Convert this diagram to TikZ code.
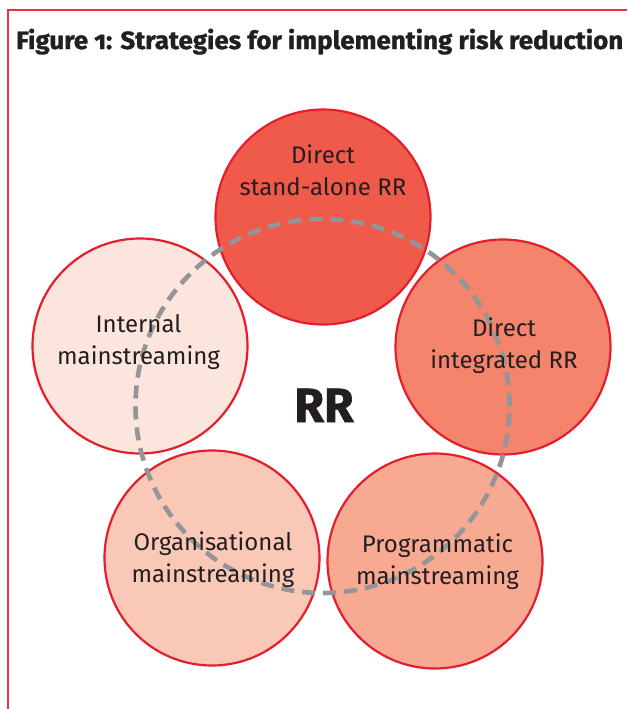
\documentclass[tikz,border=0pt]{standalone}
\usepackage{fontspec}
\usepackage{graphicx}
\setmainfont{Fira Sans}
\newfontfamily\titlefont[Numbers=OldStyle, FakeBold=1.2]{Fira Sans}
\newfontfamily\heavyfont[FakeBold=1.5]{Fira Sans}
\definecolor{cTop}{HTML}{EF5A4B}
\definecolor{cRight}{HTML}{F4846C}
\definecolor{cBR}{HTML}{F7A992}
\definecolor{cBL}{HTML}{F9C8B7}
\definecolor{cLeft}{HTML}{FCE5DC}
\definecolor{cEdge}{HTML}{E41E2D}
\definecolor{cFrame}{HTML}{E83446}
\definecolor{cDash}{HTML}{939598}
\definecolor{cText}{HTML}{231F20}
\begin{document}
\begin{tikzpicture}[x=1pt,y=-1pt,
  bubble/.style={circle, draw=cEdge, line width=2.2pt, minimum size=215pt, inner sep=0pt},
  label/.style={text=cText, font=\fontsize{24}{31.5}\selectfont, align=center, anchor=base, inner sep=0pt},
  ring/.style={draw=cDash, line width=4.6pt, dash pattern=on 13pt off 8pt},
  frameline/.style={draw=cFrame, line width=1.6pt}]
\useasboundingbox (0,0) rectangle (627,709);
\fill[white] (0,0) rectangle (627,709);
\draw[frameline] (627,10) -- (8,10) -- (8,709);
\node[anchor=base west, inner sep=0pt, text=cText] (title) at (16,49)
  {\resizebox{607pt}{\height}{\titlefont\bfseries\fontsize{25}{28}\selectfont Figure 1: Strategies for implementing risk reduction}};
% circles
\node[bubble, fill=cLeft]  (internal) at (140,346) {};
\node[bubble, fill=cBL]    (organ)    at (212,558) {};
\node[bubble, fill=cBR]    (progr)    at (435,561) {};
\node[bubble, fill=cRight] (integ)    at (503,347) {};
\node[bubble, fill=cTop]   (stand)    at (323,217) {};
% dashed ring
\coordinate (hub) at (322.5,406);
\draw[ring] (hub) circle[radius=187pt];
% labels (anchor = baseline of last line)
\node[label] (tStand) at (323,195) {Direct\\stand-alone RR};
\node[label] (tInternal) at (138.5,364) {Internal\\mainstreaming};
\node[label] (tInteg) at (504,368) {Direct\\integrated RR};
\node[label] (tOrgan) at (213,582) {Organisational\\mainstreaming};
\node[label] (tProgr) at (437.5,584) {Programmatic\\mainstreaming};
\node[anchor=base, inner sep=0pt, text=cText, font=\heavyfont\bfseries\fontsize{48}{50}\selectfont] (rr) at (324,422) {RR};
\end{tikzpicture}
\end{document}
